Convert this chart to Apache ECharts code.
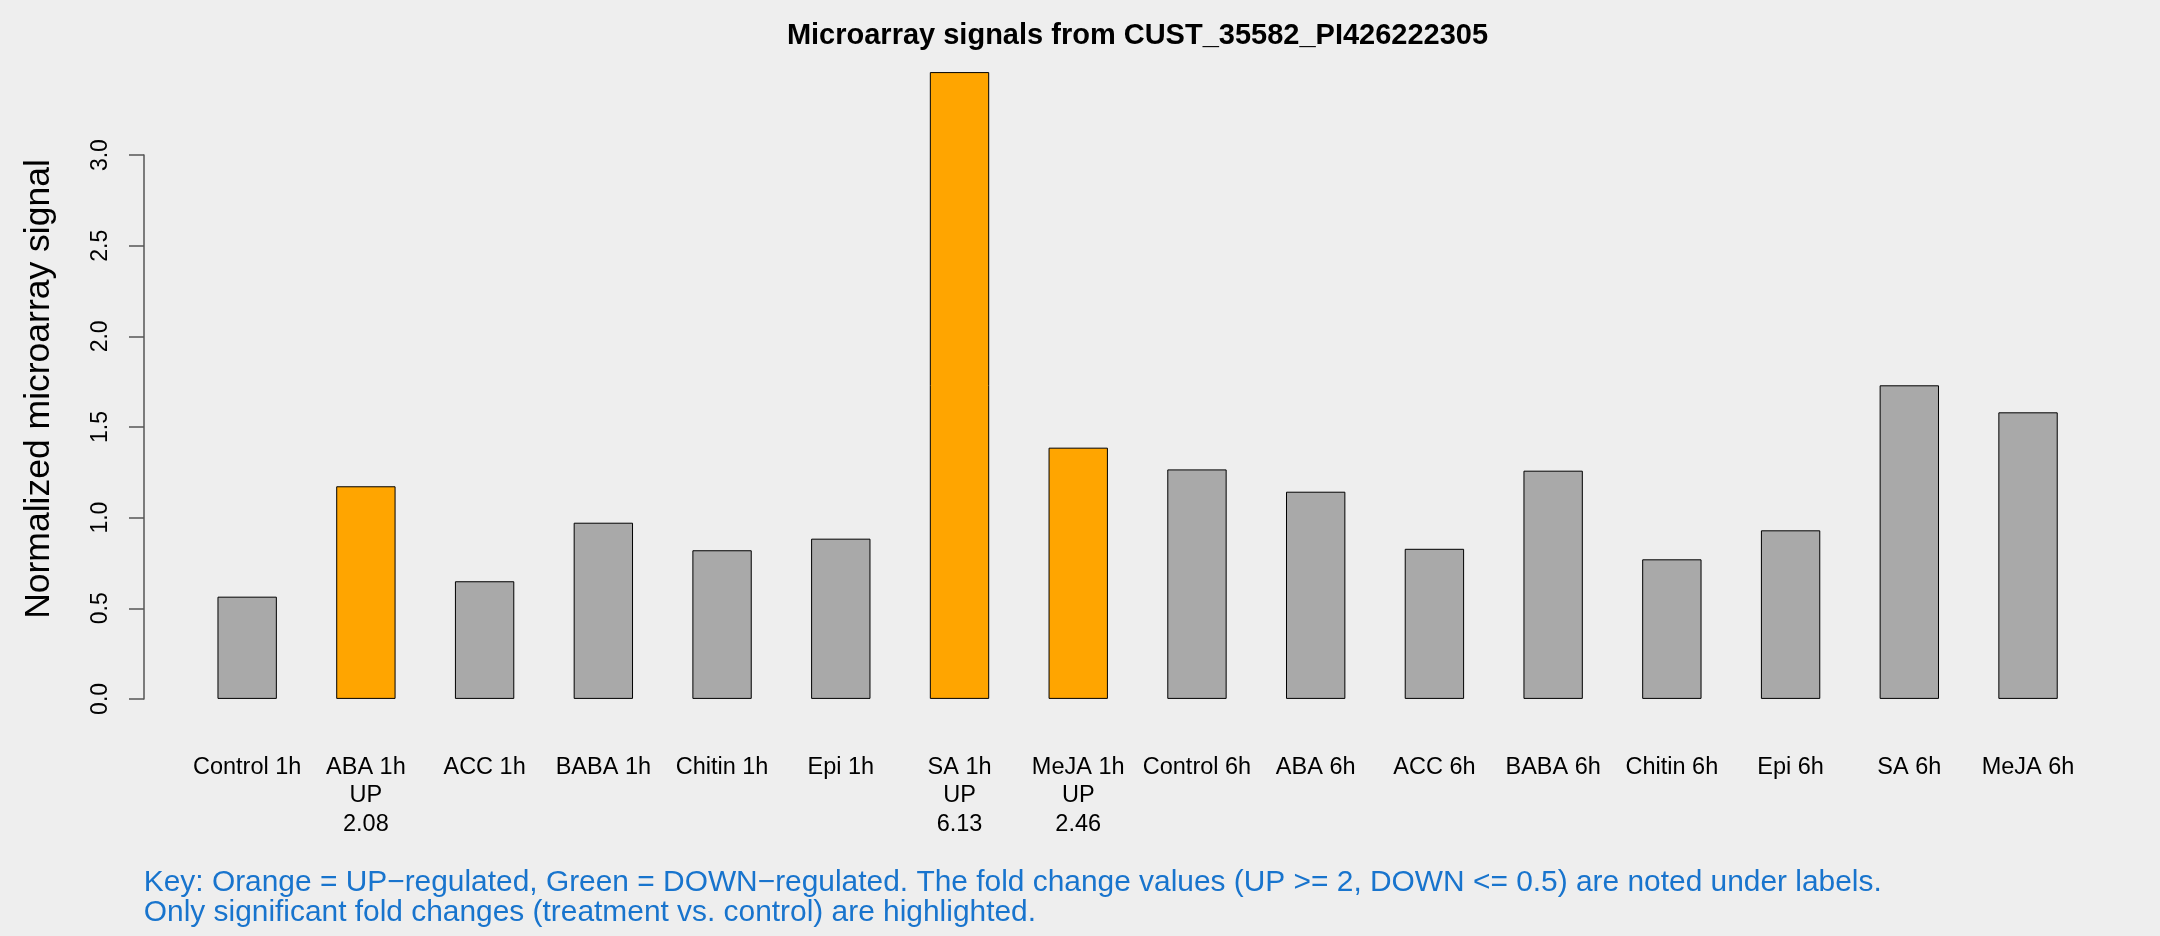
<!DOCTYPE html>
<html>
<head>
<meta charset="utf-8">
<script src="https://cdn.jsdelivr.net/npm/echarts@6/dist/echarts.min.js"></script>
<style>
  html, body { margin: 0; padding: 0; background: #EEEEEE; }
  #chart { width: 2160px; height: 936px; }
</style>
</head>
<body>
<div id="chart"></div>
<script>
// ---- data ----
const categories = ['Control 1h', 'ABA 1h', 'ACC 1h', 'BABA 1h', 'Chitin 1h', 'Epi 1h', 'SA 1h', 'MeJA 1h',
                    'Control 6h', 'ABA 6h', 'ACC 6h', 'BABA 6h', 'Chitin 6h', 'Epi 6h', 'SA 6h', 'MeJA 6h'];
const signalValues = [0.564, 1.173, 0.649, 0.972, 0.820, 0.884, 3.458, 1.386,
                      1.266, 1.143, 0.828, 1.259, 0.770, 0.930, 1.730, 1.581];
const regulation = ['', 'UP', '', '', '', '', 'UP', 'UP',
                    '', '', '', '', '', '', '', ''];
const foldChange = ['', '2.08', '', '', '', '', '6.13', '2.46',
                    '', '', '', '', '', '', '', ''];
const yTickValues = [0.0, 0.5, 1.0, 1.5, 2.0, 2.5, 3.0];

const titleText = 'Microarray signals from CUST_35582_PI426222305';
const yAxisTitle = 'Normalized microarray signal';
const noteLines = [
  'Key: Orange = UP\u2212regulated, Green = DOWN\u2212regulated. The fold change values (UP >= 2, DOWN <= 0.5) are noted under labels.',
  'Only significant fold changes (treatment vs. control) are highlighted.'
];

// ---- style ----
const FONT = '"Liberation Sans", Arial, Helvetica, sans-serif';
const colorFor = r => r === 'UP' ? '#FFA500' : (r === 'DOWN' ? '#00A000' : '#A9A9A9');

const chart = echarts.init(document.getElementById('chart'), null, { renderer: 'canvas' });

const option = {
  backgroundColor: '#EEEEEE',
  animation: false,
  grid: { left: 187.8, right: 72.6, top: 155.1, bottom: 237.1, containLabel: false },
  xAxis: {
    type: 'category',
    data: categories,
    axisLine: { show: false },
    axisTick: { show: false },
    axisLabel: {
      interval: 0,
      margin: 54,
      color: '#000',
      fontFamily: FONT,
      fontSize: 23.5,
      lineHeight: 28.6,
      formatter: (val, idx) => {
        const parts = [val];
        if (regulation[idx]) parts.push(regulation[idx]);
        if (foldChange[idx]) parts.push(foldChange[idx]);
        return parts.join('\n');
      }
    }
  },
  yAxis: {
    type: 'value',
    min: 0,
    max: 3,
    interval: 0.5,
    offset: 43.8,
    axisLine: { show: true, lineStyle: { color: '#555', width: 1.5 } },
    axisTick: { show: true, length: 15, lineStyle: { color: '#555', width: 1.5 } },
    splitLine: { show: false },
    axisLabel: {
      rotate: 90,
      margin: 32,
      color: '#000',
      fontFamily: FONT,
      fontSize: 23,
      formatter: v => yTickValues.includes(v) ? v.toFixed(1) : ''
    }
  },
  series: [{
    type: 'bar',
    clip: false,
    barCategoryGap: '50%',
    data: signalValues.map((v, i) => ({
      value: v,
      itemStyle: { color: colorFor(regulation[i]) }
    })),
    itemStyle: { borderColor: '#000', borderWidth: 1 }
  }],
  graphic: [
    {
      type: 'text', x: 1137.5, y: 35.5,
      style: { text: titleText, font: 'bold 29px ' + FONT, fill: '#000',
               textAlign: 'center', textVerticalAlign: 'middle', align: 'center', verticalAlign: 'middle' }
    },
    {
      type: 'text', x: 39.4, y: 389, rotation: Math.PI / 2,
      style: { text: yAxisTitle, font: '35.5px ' + FONT, fill: '#000',
               textAlign: 'center', textVerticalAlign: 'middle', align: 'center', verticalAlign: 'middle' }
    },
    {
      type: 'text', x: 143.8, y: 883,
      style: { text: noteLines[0], font: '29.9px ' + FONT, fill: '#1874CD',
               textAlign: 'left', textVerticalAlign: 'middle', align: 'left', verticalAlign: 'middle' }
    },
    {
      type: 'text', x: 143.8, y: 913,
      style: { text: noteLines[1], font: '29.9px ' + FONT, fill: '#1874CD',
               textAlign: 'left', textVerticalAlign: 'middle', align: 'left', verticalAlign: 'middle' }
    }
  ]
};
chart.setOption(option);
</script>
</body>
</html>
